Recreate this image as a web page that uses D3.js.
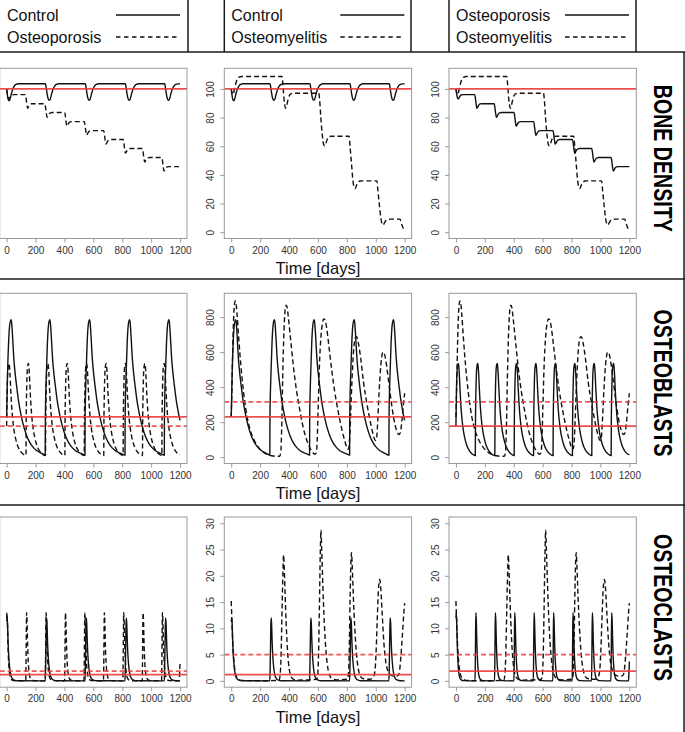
<!DOCTYPE html>
<html><head><meta charset="utf-8">
<script src="https://cdn.jsdelivr.net/npm/d3@7"></script>
<style>
body{margin:0;background:#fff}
svg{display:block}
text{font-family:"Liberation Sans",Arial,Helvetica,sans-serif}
</style>
</head><body>
<svg id="chart" width="685" height="732"></svg>
<script>
// ---------------- DATA ----------------
const timeTicks = [0, 200, 400, 600, 800, 1000, 1200];
const boneTicks = [0, 20, 40, 60, 80, 100];
const blastTicks = [0, 200, 400, 600, 800];
const clastTicks = [0, 5, 10, 15, 20, 25, 30];

const rowTitles = ["BONE DENSITY", "OSTEOBLASTS", "OSTEOCLASTS"];
const legendSolid = ["Control", "Control", "Osteoporosis"];
const legendDashed = ["Osteoporosis", "Osteomyelitis", "Osteomyelitis"];
const xLabel = "Time [days]";

// steady states [bone density, osteoblasts, osteoclasts]
const refControl = [100, 230, 1.2];
const refOsteoporosis = [100, 178, 1.85];
const refOsteomyelitis = [100, 316, 5];

// Bone density [day, value]
const boneControl = [[0,100],[5,96],[10,93],[18,91.8],[25,93.5],[35,97.5],[45,100.5],[55,102.3],[65,103.2],[80,103.6],
[268,103.6],[272,102],[278,98],[285,94],[293,92],[300,92.5],[310,96],[320,99.5],[332,102],[345,103.2],[360,103.6],
[545,103.6],[548,102],[554,98],[561,94],[569,92],[576,92.5],[586,96],[596,99.5],[608,102],[621,103.2],[636,103.6],
[822,103.6],[825,102],[831,98],[838,94],[846,92],[853,92.5],[863,96],[873,99.5],[885,102],[898,103.2],[913,103.6],
[1094,103.6],[1097,102],[1103,98],[1110,94],[1118,92],[1125,92.5],[1135,96],[1145,99.5],[1157,102],[1170,103.2],[1185,103.5],[1200,103.5]];

const boneOsteoporosis = [[0,100],[5,96.5],[10,94],[16,93],[22,93.8],[30,95.2],[40,95.9],[50,96],
[130,96],[134,94],[139,90],[145,86.5],[150,87.2],[158,88.7],[168,89.5],[178,89.7],
[265,89.7],[269,87.5],[274,83.5],[280,80.2],[285,80.9],[293,82.4],[303,83.3],[313,83.5],
[402,83.5],[406,81.3],[411,77.3],[417,74],[422,74.7],[430,76.2],[440,77],[450,77.2],
[538,77.2],[542,75],[547,71],[553,67.7],[558,68.4],[566,69.9],[576,70.7],[586,70.9],
[672,70.9],[676,68.7],[681,64.7],[687,61.5],[692,62.2],[700,63.7],[710,64.5],[720,64.7],
[807,64.7],[811,62.5],[816,58.5],[822,55.2],[827,55.9],[835,57.4],[845,58.2],[855,58.4],
[940,58.4],[944,56.2],[949,52.2],[955,49],[960,49.7],[968,51.2],[978,51.9],[988,52.1],
[1074,52.1],[1078,49.9],[1083,45.9],[1089,42.7],[1094,43.4],[1102,44.9],[1112,45.6],[1122,45.8],[1200,45.8]];

const boneOsteomyelitis = [[0,100],[5,97.5],[10,96],[16,97],[25,101],[35,105],[45,107.3],[55,108.3],[70,108.7],
[352,108.7],[356,105],[362,97],[370,89],[377,86.5],[384,88.5],[393,92.5],[403,95.5],[415,96.7],[430,97],
[606,97],[612,92],[620,80],[630,68],[640,61],[647,60.2],[655,62],[665,65],[678,66.7],[695,67],
[815,67],[822,60],[832,48],[842,36],[852,31],[858,30.5],[866,32.5],[878,34.8],[893,35.7],[910,35.8],
[1008,35.8],[1015,29],[1025,19],[1035,10],[1045,5.5],[1052,5.1],[1060,6.5],[1072,8.3],[1085,9],[1100,9.1],
[1168,9.1],[1175,7],[1185,4],[1195,2],[1200,1.4]];

// Osteoblasts [day, value]
const blastControl = [[0,230],[6,470],[13,645],[20,745],[30,785],[35,765],[40,705],[50,560],[60,470],[70,400],[80,335],[90,283],[105,220],[120,170],[140,120],[160,85],[180,60],[205,40],[230,27],[250,19],[267,12],
[268,230],[275,480],[282,650],[289,750],[298,785],[303,765],[308,705],[318,560],[328,470],[338,400],[348,335],[358,283],[373,220],[388,170],[408,120],[428,85],[448,60],[473,40],[498,27],[523,19],[542,12],
[543,230],[550,480],[557,650],[564,750],[573,785],[578,765],[583,705],[593,560],[603,470],[613,400],[623,335],[633,283],[648,220],[663,170],[683,120],[703,85],[723,60],[748,40],[773,27],[798,19],[819,12],
[820,230],[827,480],[834,650],[841,750],[850,785],[855,765],[860,705],[870,560],[880,470],[890,400],[900,335],[910,283],[925,220],[940,170],[960,120],[980,85],[1000,60],[1025,40],[1050,27],[1070,19],[1091,12],
[1092,230],[1099,480],[1106,650],[1113,750],[1122,785],[1127,765],[1132,705],[1142,560],[1152,470],[1162,400],[1172,335],[1182,283],[1197,220],[1200,210]];

const blastOsteoporosis = [[0,178],[4,400],[9,505],[16,535],[19,525],[23,480],[28,390],[34,300],[41,225],[51,155],[61,110],[71,78],[81,55],[96,33],[111,20],[134,10],
[135,180],[139,400],[144,510],[150,535],[153,525],[157,480],[162,390],[168,300],[175,225],[185,155],[195,110],[205,78],[215,55],[230,33],[245,20],[269,10],
[270,180],[274,400],[279,510],[285,535],[288,525],[292,480],[297,390],[303,300],[310,225],[320,155],[330,110],[340,78],[350,55],[365,33],[380,20],[403,10],
[404,180],[408,400],[413,510],[419,535],[422,525],[426,480],[431,390],[437,300],[444,225],[454,155],[464,110],[474,78],[484,55],[499,33],[514,20],[537,10],
[538,180],[542,400],[547,510],[553,535],[556,525],[560,480],[565,390],[571,300],[578,225],[588,155],[598,110],[608,78],[618,55],[633,33],[648,20],[672,10],
[673,180],[677,400],[682,510],[688,535],[691,525],[695,480],[700,390],[706,300],[713,225],[723,155],[733,110],[743,78],[753,55],[768,33],[783,20],[806,10],
[807,180],[811,400],[816,510],[822,535],[825,525],[829,480],[834,390],[840,300],[847,225],[857,155],[867,110],[877,78],[887,55],[902,33],[917,20],[940,10],
[941,180],[945,400],[950,510],[956,535],[959,525],[963,480],[968,390],[974,300],[981,225],[991,155],[1001,110],[1011,78],[1021,55],[1036,33],[1051,20],[1074,10],
[1075,180],[1079,400],[1084,510],[1090,535],[1093,525],[1097,480],[1102,390],[1108,300],[1115,225],[1125,155],[1135,110],[1145,78],[1155,55],[1170,33],[1185,20],[1200,14]];

const blastOsteomyelitis = [[0,230],[5,400],[10,600],[15,760],[20,850],[27,893],[33,880],[40,820],[50,700],[60,590],[75,450],[90,340],[110,230],[130,160],[160,95],[190,55],[220,30],[250,15],[280,8],[310,5],[335,5],
[343,30],[350,200],[356,450],[362,650],[368,780],[374,850],[380,868],[387,855],[395,800],[410,680],[430,520],[450,390],[470,290],[490,200],[510,130],[530,80],[550,45],[565,25],[578,17],
[588,25],[595,100],[602,300],[610,520],[620,680],[630,760],[640,790],[648,785],[660,740],[675,640],[695,500],[715,380],[740,260],[765,160],[785,95],[800,55],[808,45],
[815,60],[822,150],[830,330],[840,520],[850,640],[860,685],[868,688],[878,660],[895,570],[915,430],[940,300],[965,190],[985,120],[997,95],
[1005,105],[1012,180],[1020,320],[1030,470],[1040,565],[1050,600],[1058,595],[1070,550],[1085,460],[1105,330],[1125,220],[1145,150],[1160,130],
[1170,140],[1180,200],[1190,290],[1200,365]];

// Osteoclasts [day, value]
const clastControl = [[0,11.3],[3,12],[6,11],[10,7.5],[15,4.5],[21,2.5],[28,1.2],[38,0.5],[53,0.15],[73,0.03],[267,0],
[269,2],[272,7],[274,10.5],[276,12],[279,11],[283,7.5],[288,4.5],[294,2.5],[301,1.2],[311,0.5],[326,0.15],[346,0.03],[542,0],
[544,2],[547,7],[549,10.5],[551,12],[554,11],[558,7.5],[563,4.5],[569,2.5],[576,1.2],[586,0.5],[601,0.15],[621,0.03],[819,0],
[821,2],[824,7],[826,10.5],[828,12],[831,11],[835,7.5],[840,4.5],[846,2.5],[853,1.2],[863,0.5],[878,0.15],[898,0.03],[1091,0],
[1093,2],[1096,7],[1098,10.5],[1100,12],[1103,11],[1107,7.5],[1112,4.5],[1118,2.5],[1125,1.2],[1135,0.5],[1150,0.15],[1170,0.03],[1200,0]];

const clastOsteoporosis = [[0,12],[2,13],[5,11.5],[9,7],[14,3.5],[20,1.5],[27,0.6],[37,0.2],[52,0.05],[132,0],
[134,3],[136,9],[138,13],[141,11.5],[145,7],[150,3.5],[156,1.5],[163,0.6],[173,0.2],[188,0.05],[267,0],
[269,3],[271,9],[273,13],[276,11.5],[280,7],[285,3.5],[291,1.5],[298,0.6],[308,0.2],[323,0.05],[401,0],
[403,3],[405,9],[407,13],[410,11.5],[414,7],[419,3.5],[425,1.5],[432,0.6],[442,0.2],[457,0.05],[535,0],
[537,3],[539,9],[541,13],[544,11.5],[548,7],[553,3.5],[559,1.5],[566,0.6],[576,0.2],[591,0.05],[670,0],
[672,3],[674,9],[676,13],[679,11.5],[683,7],[688,3.5],[694,1.5],[701,0.6],[711,0.2],[726,0.05],[804,0],
[806,3],[808,9],[810,13],[813,11.5],[817,7],[822,3.5],[828,1.5],[835,0.6],[845,0.2],[860,0.05],[938,0],
[940,3],[942,9],[944,13],[947,11.5],[951,7],[956,3.5],[962,1.5],[969,0.6],[979,0.2],[994,0.05],[1072,0],
[1074,3],[1076,9],[1078,13],[1081,11.5],[1085,7],[1090,3.5],[1096,1.5],[1103,0.6],[1113,0.2],[1128,0.05],[1194,0],[1197,1.5],[1200,3.7]];

const clastOsteomyelitis = [[0,15.2],[4,12],[8,9],[13,6],[20,3.3],[28,1.6],[38,0.7],[50,0.3],[70,0.1],[200,0.02],[330,0.1],
[338,1],[345,5],[352,14],[358,21],[362,24],[366,22],[372,17],[380,11],[390,5.5],[400,2.5],[412,1],[425,0.4],[450,0.15],[590,0.3],
[598,1],[604,5],[610,14],[616,24],[621,28.7],[626,25],[634,18],[644,11],[656,5.5],[668,2.5],[682,1],[700,0.4],[730,0.2],[800,0.3],
[810,1],[816,5],[822,15],[828,22.5],[832,24.4],[837,22],[845,16],[855,10],[867,5],[880,2.2],[895,0.8],[915,0.4],[960,0.3],
[985,0.8],[995,2],[1003,6],[1012,13],[1020,18],[1028,19.3],[1035,17.5],[1045,12.5],[1057,7],[1070,3.5],[1085,1.8],[1100,1.2],[1130,0.9],
[1155,1],[1165,2],[1175,5],[1185,9],[1193,12.5],[1200,14.8]];

// ---------------- LAYOUT ----------------
const svg = d3.select("#chart");
const colLeft = [-0.3, 224.3, 449];
const plotW = 187.3;
const rowTop = [68.3, 293.3, 517];
const plotH = 170.2;
const xDomain = [-48, 1248];
const yDomains = [[-4.4, 114.4], [-36, 936], [-1.2, 31.2]];
const yTickSets = [boneTicks, blastTicks, clastTicks];

const seriesGrid = [
  [[boneControl, boneOsteoporosis], [boneControl, boneOsteomyelitis], [boneOsteoporosis, boneOsteomyelitis]],
  [[blastControl, blastOsteoporosis], [blastControl, blastOsteomyelitis], [blastOsteoporosis, blastOsteomyelitis]],
  [[clastControl, clastOsteoporosis], [clastControl, clastOsteomyelitis], [clastOsteoporosis, clastOsteomyelitis]]
];
const refGrid = [[refControl, refOsteoporosis], [refControl, refOsteomyelitis], [refOsteoporosis, refOsteomyelitis]];

const frameColor = "#1a1a1a";
const boxColor = "#9a9a9a";
const tickColor = "#333";
const red = "#ec3b3b";

for (let r = 0; r < 3; r++) {
  for (let c = 0; c < 3; c++) {
    const L = colLeft[c], T = rowTop[r];
    const x = d3.scaleLinear().domain(xDomain).range([L, L + plotW]);
    const y = d3.scaleLinear().domain(yDomains[r]).range([T + plotH, T]);
    const g = svg.append("g");
    const clipId = `clip${r}${c}`;
    svg.append("clipPath").attr("id", clipId).append("rect")
      .attr("x", L).attr("y", T).attr("width", plotW).attr("height", plotH);

    const line = d3.line().x(d => x(d[0])).y(d => y(d[1])).curve(d3.curveMonotoneX);
    const [solid, dashed] = seriesGrid[r][c];
    const pg = g.append("g").attr("clip-path", `url(#${clipId})`);
    pg.append("path").datum(dashed).attr("d", line).attr("fill", "none")
      .attr("stroke", "#111").attr("stroke-width", 1.4).attr("stroke-dasharray", "5,3");
    pg.append("path").datum(solid).attr("d", line).attr("fill", "none")
      .attr("stroke", "#111").attr("stroke-width", 1.4);

    // reference (steady state) lines
    const [rs, rd] = refGrid[c];
    if (rd[r] !== rs[r]) {
      pg.append("line").attr("x1", L).attr("x2", L + plotW).attr("y1", y(rd[r])).attr("y2", y(rd[r]))
        .attr("stroke", red).attr("stroke-width", 1.8).attr("stroke-dasharray", "5,3").attr("opacity", 0.85);
    }
    pg.append("line").attr("x1", L).attr("x2", L + plotW).attr("y1", y(rs[r])).attr("y2", y(rs[r]))
      .attr("stroke", red).attr("stroke-width", 1.8).attr("opacity", 0.9);

    // box
    g.append("rect").attr("x", L).attr("y", T).attr("width", plotW).attr("height", plotH)
      .attr("fill", "none").attr("stroke", boxColor).attr("stroke-width", 1);

    // x axis
    const xa = g.append("g").attr("transform", `translate(0,${T + plotH})`)
      .call(d3.axisBottom(x).tickValues(timeTicks).tickSize(4).tickSizeOuter(0).tickPadding(4).tickFormat(d3.format("d")));
    xa.select(".domain").remove();
    xa.selectAll("line").attr("stroke", boxColor);
    xa.selectAll("text").attr("font-size", "10px").attr("fill", tickColor)
      .attr("font-family", '"Liberation Sans",Arial,sans-serif');

    // y axis (the left column's axis lies outside the picture in the reference)
    if (c > 0) {
      const ya = g.append("g").attr("transform", `translate(${L},0)`)
        .call(d3.axisLeft(y).tickValues(yTickSets[r]).tickSize(4).tickSizeOuter(0).tickFormat(d3.format("d")));
      ya.select(".domain").remove();
      ya.selectAll("line").attr("stroke", boxColor);
      ya.selectAll("text").attr("font-size", "10px").attr("fill", tickColor)
        .attr("font-family", '"Liberation Sans",Arial,sans-serif')
        .attr("x", null)
        .attr("text-anchor", "middle")
        .attr("transform", "translate(-13.6,0) rotate(-90)")
        .attr("dy", "0.35em");
    }

    if (c === 1) {
      g.append("text").attr("x", L + plotW / 2).attr("y", T + plotH + 35.5)
        .attr("text-anchor", "middle").attr("font-size", "16.5px").attr("fill", "#111")
        .text(xLabel);
    }
  }
}

// row titles
const titleCenters = [158.3, 383, 607.5];
rowTitles.forEach((t, i) => {
  svg.append("text")
    .attr("transform", `translate(663.5,${titleCenters[i]}) rotate(90)`)
    .attr("text-anchor", "middle").attr("dy", "0.36em")
    .attr("font-size", "26px").attr("font-weight", "bold").attr("fill", "#000")
    .attr("textLength", 147).attr("lengthAdjust", "spacingAndGlyphs")
    .text(t);
});

// frame
const frame = svg.append("g").attr("stroke", frameColor).attr("stroke-width", 1.5).attr("fill", "none");
[52, 279, 505].forEach(yy => frame.append("line").attr("x1", 0).attr("x2", 685).attr("y1", yy).attr("y2", yy));
frame.append("line").attr("x1", 684).attr("x2", 684).attr("y1", 52).attr("y2", 732);
[188, 224.3, 411, 449, 636].forEach(xx => frame.append("line").attr("x1", xx).attr("x2", xx).attr("y1", 0).attr("y2", 52));

// legends
const legendLeft = [0, 224.3, 449];
legendLeft.forEach((L, i) => {
  const lg = svg.append("g");
  lg.append("text").attr("x", L + 7).attr("y", 20.5).attr("font-size", "16px").attr("fill", "#111").text(legendSolid[i]);
  lg.append("text").attr("x", L + 7).attr("y", 42.5).attr("font-size", "16px").attr("fill", "#111").text(legendDashed[i]);
  lg.append("line").attr("x1", L + 116).attr("x2", L + 180).attr("y1", 15).attr("y2", 15)
    .attr("stroke", "#111").attr("stroke-width", 1.3);
  lg.append("line").attr("x1", L + 116).attr("x2", L + 180).attr("y1", 37).attr("y2", 37)
    .attr("stroke", "#111").attr("stroke-width", 1.3).attr("stroke-dasharray", "4.5,3.5");
});
</script>
</body></html>
